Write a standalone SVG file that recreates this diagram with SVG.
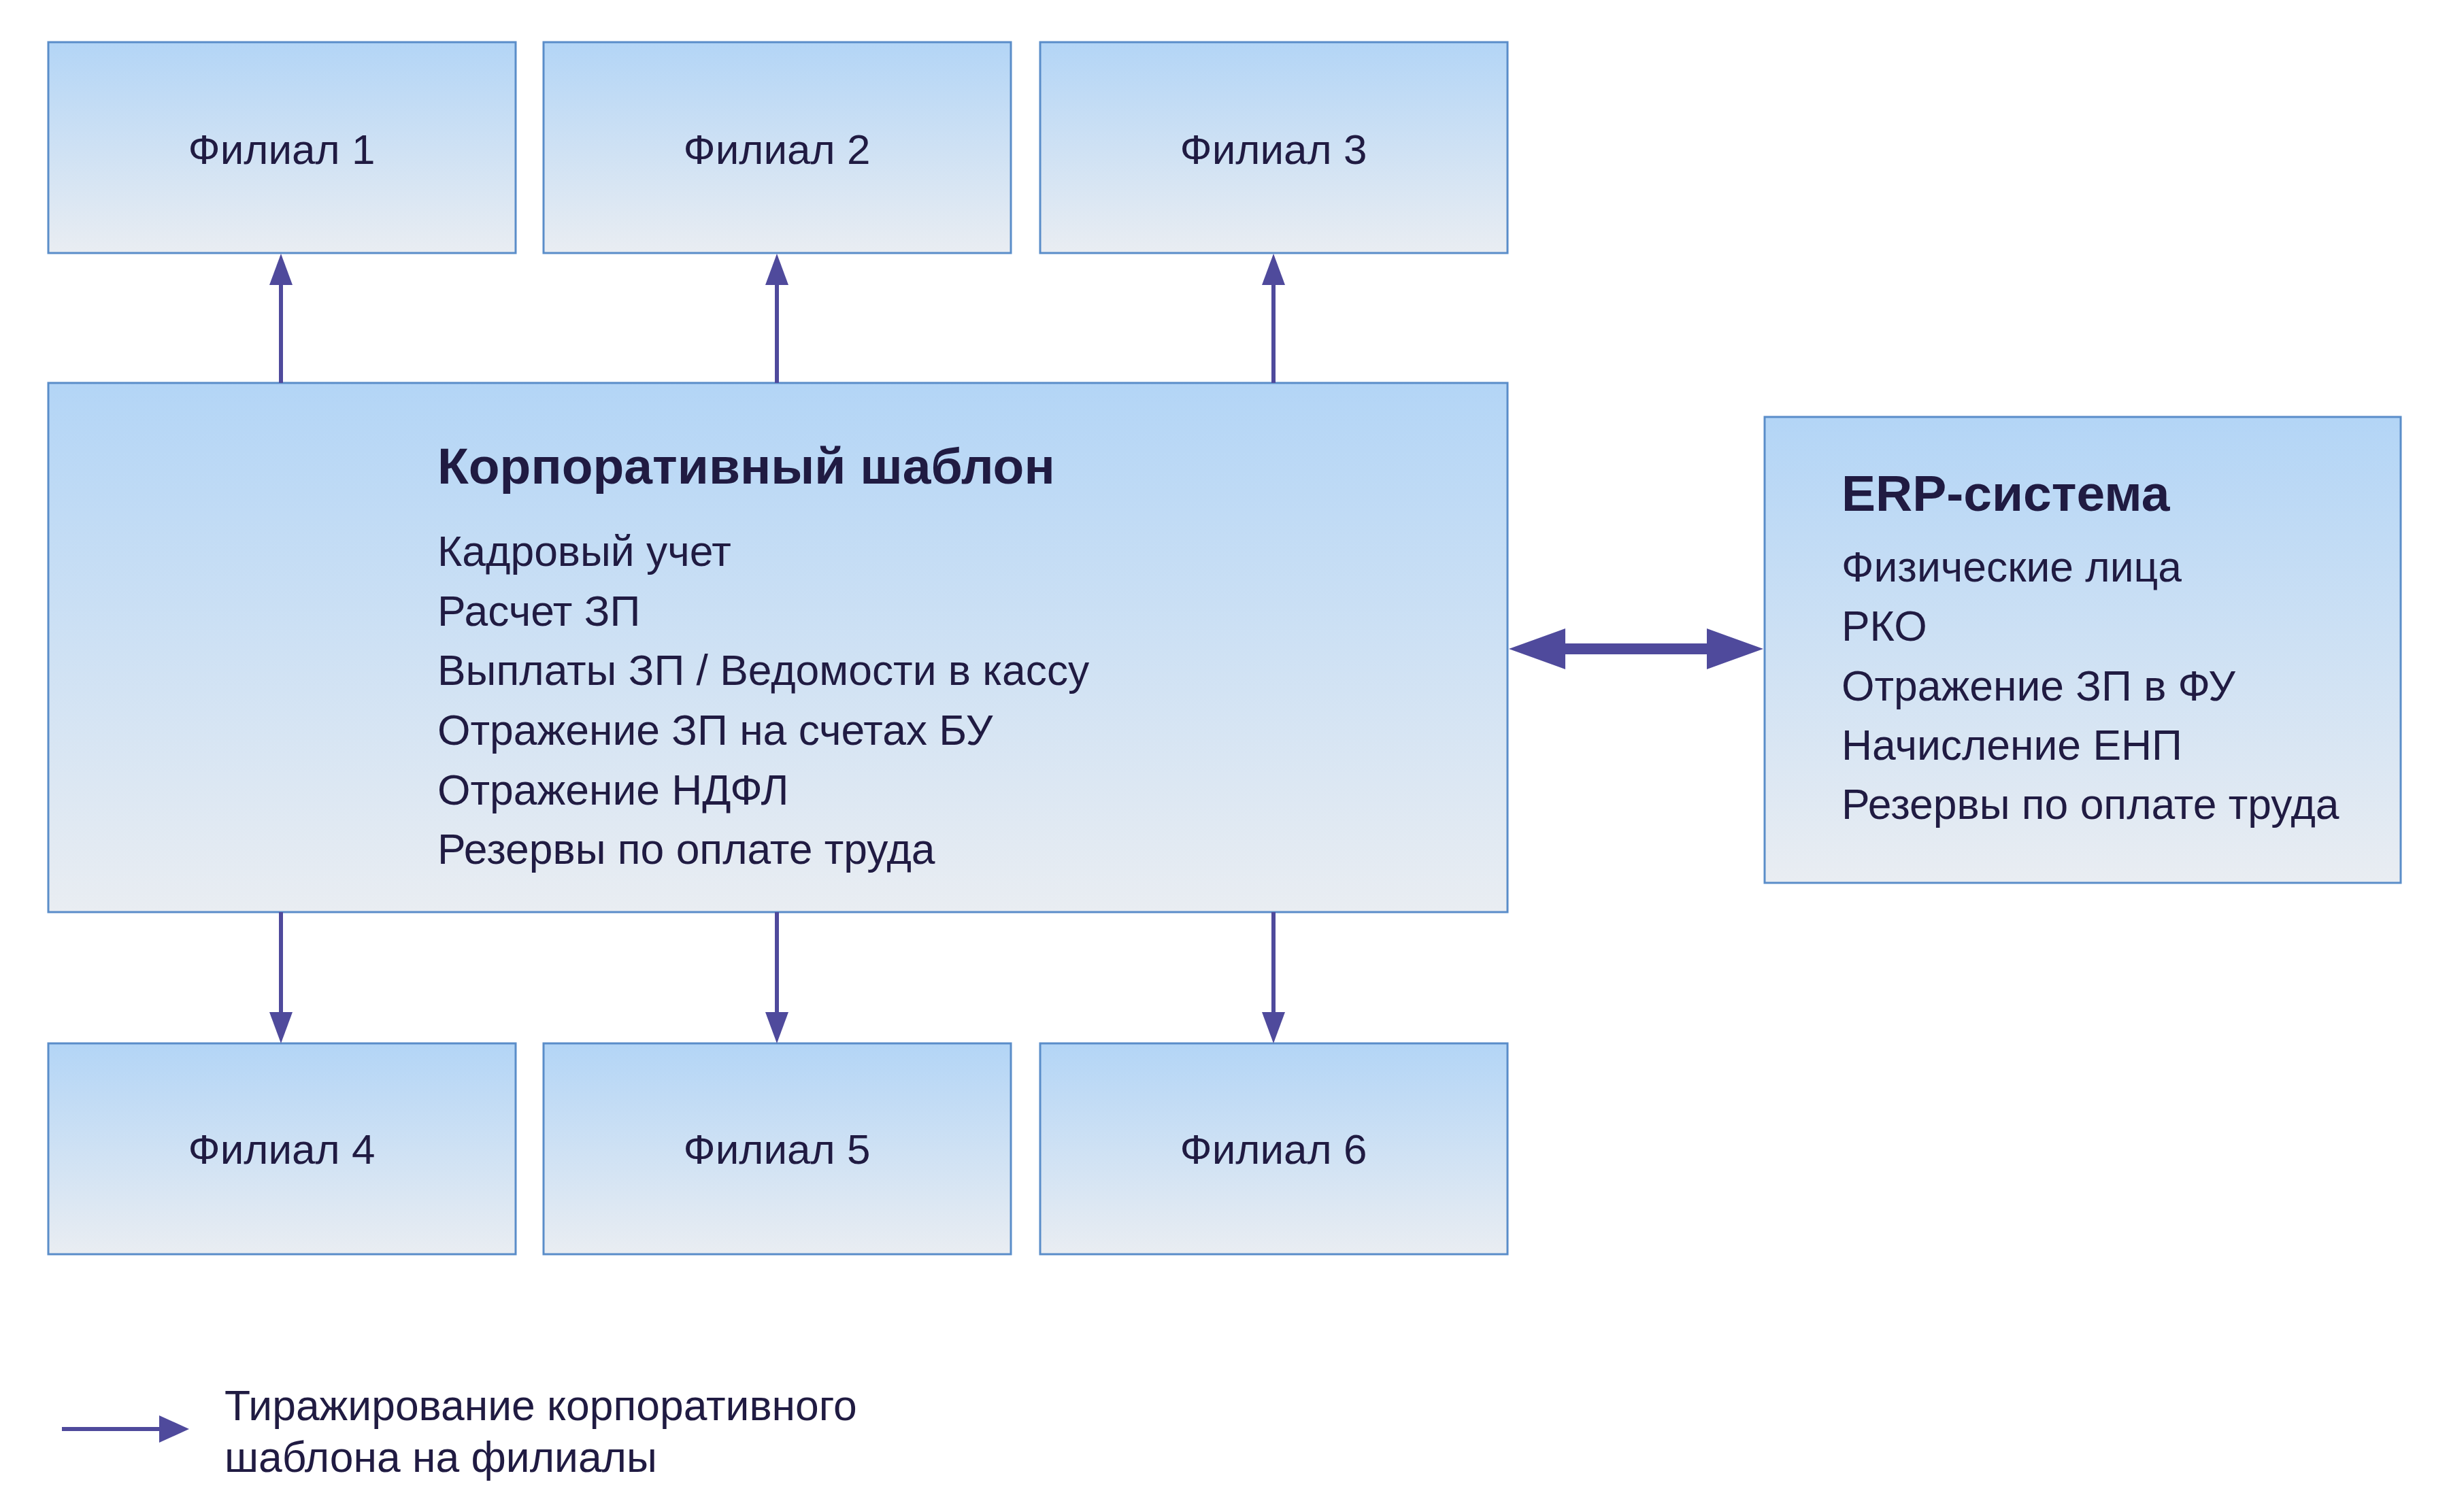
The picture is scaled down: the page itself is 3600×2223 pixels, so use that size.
<svg xmlns="http://www.w3.org/2000/svg" width="3600" height="2223" viewBox="0 0 3600 2223">
<style>
.box{stroke:#5a8dc9;stroke-width:3;fill:url(#g)}
text{font-family:"Liberation Sans",Arial,sans-serif;fill:#201b42}
.lbl{font-size:62px;text-anchor:middle}
.body{font-size:62.4px}
.title{font-size:75px;font-weight:bold}
.conn{stroke:#4f4a9c;fill:none}
</style>
<defs>
<linearGradient id="g" x1="0" y1="0" x2="0" y2="1">
<stop offset="0" stop-color="#b3d5f6"/>
<stop offset="1" stop-color="#e9edf2"/>
</linearGradient>
<marker id="ah" markerUnits="userSpaceOnUse" markerWidth="46" markerHeight="34" refX="0" refY="17" orient="auto-start-reverse" viewBox="0 0 46 34"><path d="M0,0 L46,17 L0,34 z" fill="#4f4a9c"/></marker>
<marker id="ahl" markerUnits="userSpaceOnUse" markerWidth="44" markerHeight="40" refX="0" refY="20" orient="auto-start-reverse" viewBox="0 0 44 40"><path d="M0,0 L44,20 L0,40 z" fill="#4f4a9c"/></marker>
<marker id="ahb" markerUnits="userSpaceOnUse" markerWidth="83" markerHeight="60" refX="0" refY="30" orient="auto-start-reverse" viewBox="0 0 83 60"><path d="M0,0 L83,30 L0,60 z" fill="#4f4a9c"/></marker>
</defs>

<g id="f1"><rect class="box" x="71" y="62" width="687" height="310"/><text class="lbl" x="414" y="241">Филиал 1</text></g>
<g id="f2"><rect class="box" x="799" y="62" width="687" height="310"/><text class="lbl" x="1142" y="241">Филиал 2</text></g>
<g id="f3"><rect class="box" x="1529" y="62" width="687" height="310"/><text class="lbl" x="1872" y="241">Филиал 3</text></g>

<g id="corp"><rect class="box" x="71" y="563" width="2145" height="778"/>
<text class="title" x="643" y="711">Корпоративный шаблон</text>
<text class="body" x="643" y="832">Кадровый учет</text>
<text class="body" x="643" y="920">Расчет ЗП</text>
<text class="body" x="643" y="1007">Выплаты ЗП / Ведомости в кассу</text>
<text class="body" x="643" y="1095">Отражение ЗП на счетах БУ</text>
<text class="body" x="643" y="1183">Отражение НДФЛ</text>
<text class="body" x="643" y="1270">Резервы по оплате труда</text>
</g>

<g id="erp"><rect class="box" x="2594" y="613" width="935" height="685"/>
<text class="title" x="2707" y="751">ERP-система</text>
<text class="body" x="2707" y="855">Физические лица</text>
<text class="body" x="2707" y="942">РКО</text>
<text class="body" x="2707" y="1030">Отражение ЗП в ФУ</text>
<text class="body" x="2707" y="1117">Начисление ЕНП</text>
<text class="body" x="2707" y="1204">Резервы по оплате труда</text>
</g>

<g id="f4"><rect class="box" x="71" y="1534" width="687" height="310"/><text class="lbl" x="414" y="1711">Филиал 4</text></g>
<g id="f5"><rect class="box" x="799" y="1534" width="687" height="310"/><text class="lbl" x="1142" y="1711">Филиал 5</text></g>
<g id="f6"><rect class="box" x="1529" y="1534" width="687" height="310"/><text class="lbl" x="1872" y="1711">Филиал 6</text></g>

<g id="connectors">
<line class="conn" stroke-width="6" x1="413" y1="563" x2="413" y2="419" marker-end="url(#ah)"/>
<line class="conn" stroke-width="6" x1="1142" y1="563" x2="1142" y2="419" marker-end="url(#ah)"/>
<line class="conn" stroke-width="6" x1="1872" y1="563" x2="1872" y2="419" marker-end="url(#ah)"/>
<line class="conn" stroke-width="6" x1="413" y1="1341" x2="413" y2="1488" marker-end="url(#ah)"/>
<line class="conn" stroke-width="6" x1="1142" y1="1341" x2="1142" y2="1488" marker-end="url(#ah)"/>
<line class="conn" stroke-width="6" x1="1872" y1="1341" x2="1872" y2="1488" marker-end="url(#ah)"/>
<line class="conn" stroke-width="16" x1="2301" y1="954" x2="2509" y2="954" marker-start="url(#ahb)" marker-end="url(#ahb)"/>
</g>

<g id="legend">
<line class="conn" stroke-width="6" x1="91" y1="2101" x2="234" y2="2101" marker-end="url(#ahl)"/>
<text class="body" x="330" y="2088">Тиражирование корпоративного</text>
<text class="body" x="330" y="2164">шаблона на филиалы</text>
</g>
</svg>
